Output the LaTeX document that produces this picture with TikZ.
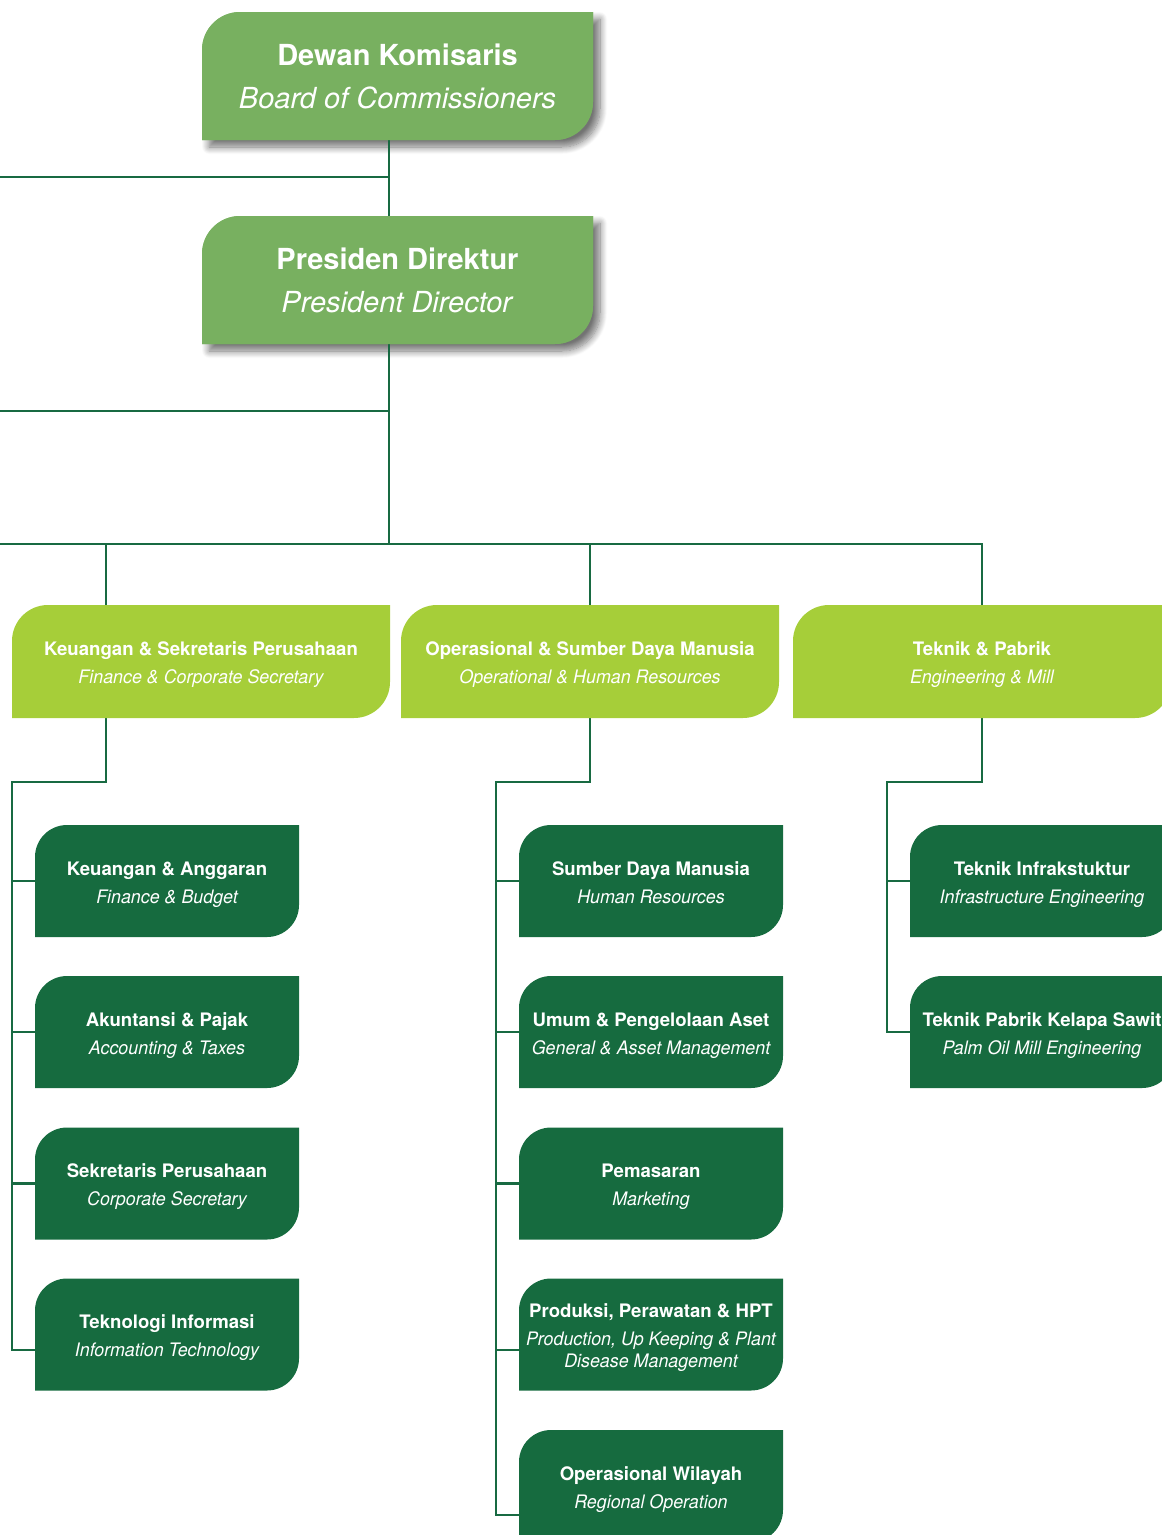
\documentclass[tikz,border=0pt]{standalone}
\usepackage{fontspec}
\setmainfont{TeX Gyre Heros}
\usetikzlibrary{backgrounds,shadows.blur}
\definecolor{topg}{RGB}{120,176,96}
\definecolor{midg}{RGB}{166,206,57}
\definecolor{darkg}{RGB}{22,107,63}
\definecolor{lineg}{RGB}{24,106,66}
\newcommand\leafpath[2]{(#1.south west) -- ([yshift=-#2pt]#1.north west) arc[start angle=180,end angle=90,radius=#2pt] -- (#1.north east) -- ([yshift=#2pt]#1.south east) arc[start angle=0,end angle=-90,radius=#2pt] -- cycle}
\newcommand\subt[1]{{\itshape\addfontfeature{FakeStretch=0.96}#1\rule[-4.5pt]{0pt}{0pt}}}
\newcommand\ttl[1]{\rule{0pt}{21pt}\textbf{#1}}
\begin{document}
\begin{tikzpicture}[x=1pt,y=1pt,
  conn/.style={draw=lineg,line width=2.5pt},
  leaf/.style 2 args={inner sep=0pt,outer sep=0pt,text=white,align=center,
    path picture={\fill[#1] \leafpath{path picture bounding box}{#2};}},
  topbox/.style={leaf={topg}{38},minimum width=391pt,minimum height=128pt,font=\fontsize{29}{43}\selectfont},
  secbox/.style={leaf={midg}{36},minimum width=378pt,minimum height=113pt,font=\fontsize{18.6}{28}\selectfont},
  unitbox/.style={leaf={darkg}{32},minimum width=264pt,minimum height=112pt,font=\fontsize{18.6}{28}\selectfont},
  shd/.style={fill=topg,blur shadow={shadow xshift=7pt,shadow yshift=-7pt,shadow blur radius=7pt,shadow opacity=55,shadow blur steps=10}}
]
\useasboundingbox (0,0) rectangle (1162,-1535);
\clip (0,0) rectangle (1162,-1535);

% top level
\node[topbox] (dk) at (397.5,-76) {\textbf{Dewan Komisaris}\\\textit{Board of Commissioners}};
\node[topbox] (pd) at (397.5,-280) {\textbf{Presiden Direktur}\\\textit{President Director}};

% directorates
\node[secbox] (kfs) at (201,-661.5) {\ttl{Keuangan \& Sekretaris Perusahaan}\\\subt{Finance \& Corporate Secretary}};
\node[secbox] (ohr) at (590,-661.5) {\ttl{Operasional \& Sumber Daya Manusia}\\\subt{Operational \& Human Resources}};
\node[secbox] (tp) at (982,-661.5) {\ttl{Teknik \& Pabrik}\\\subt{Engineering \& Mill}};

% left units
\node[unitbox] (ka) at (167,-881) {\ttl{Keuangan \& Anggaran}\\\subt{Finance \& Budget}};
\node[unitbox] (ap) at (167,-1032) {\ttl{Akuntansi \& Pajak}\\\subt{Accounting \& Taxes}};
\node[unitbox] (sp) at (167,-1183.5) {\ttl{Sekretaris Perusahaan}\\\subt{Corporate Secretary}};
\node[unitbox] (ti) at (167,-1334.5) {\ttl{Teknologi Informasi}\\\subt{Information Technology}};

% middle units
\node[unitbox] (sdm) at (651,-881) {\ttl{Sumber Daya Manusia}\\\subt{Human Resources}};
\node[unitbox] (upa) at (651,-1032) {\ttl{Umum \& Pengelolaan Aset}\\\subt{General \& Asset Management}};
\node[unitbox] (pem) at (651,-1183.5) {\ttl{Pemasaran}\\\subt{Marketing}};
\node[unitbox] (pph) at (651,-1334.5) {\ttl{Produksi, Perawatan \& HPT}\\\subt{Production, Up Keeping \& Plant}\\[-6pt]\subt{Disease Management}};
\node[unitbox] (ow) at (651,-1486) {\ttl{Operasional Wilayah}\\\subt{Regional Operation}};

% right units
\node[unitbox] (tin) at (1042,-881) {\ttl{Teknik Infrakstuktur}\\\subt{Infrastructure Engineering}};
\node[unitbox] (tpk) at (1042,-1032) {\ttl{Teknik Pabrik Kelapa Sawit}\\\subt{Palm Oil Mill Engineering}};

\begin{scope}[on background layer]
  \path[shd] \leafpath{dk}{38};
  \path[shd] \leafpath{pd}{38};

  \coordinate (spine) at (389,0);
  \coordinate (l1) at (0,-177);
  \coordinate (l2) at (0,-411);
  \coordinate (l3) at (0,-544);
  \coordinate (xa) at (106,0);

  \draw[conn] (dk.south -| spine) -- (pd.north -| spine);
  \draw[conn] (l1) -- (l1 -| spine);
  \draw[conn] (pd.south -| spine) -- (l3 -| spine);
  \draw[conn] (l2) -- (l2 -| spine);
  \draw[conn] (l3) -| (tp.north);
  \draw[conn] (ohr.north) -- (ohr.north |- l3);
  \draw[conn] (kfs.north -| xa) -- (l3 -| xa);

  % left branch
  \coordinate (tl) at (12,-782);
  \coordinate (tiB) at ([yshift=-15.5pt]ti.west);
  \draw[conn] (kfs.south -| xa) |- (tl) |- (tiB);
  \draw[conn] (tl |- ka.west) -- (ka.west);
  \draw[conn] (tl |- ap.west) -- (ap.west);
  \draw[conn] (tl |- sp.west) -- (sp.west);

  % middle branch
  \coordinate (tm) at (496,-782);
  \coordinate (pphB) at ([yshift=-15.5pt]pph.west);
  \coordinate (owB) at ([yshift=-29pt]ow.west);
  \draw[conn] (ohr.south) |- (tm) |- (owB);
  \draw[conn] (tm |- sdm.west) -- (sdm.west);
  \draw[conn] (tm |- upa.west) -- (upa.west);
  \draw[conn] (tm |- pem.west) -- (pem.west);
  \draw[conn] (tm |- pphB) -- (pphB);

  % right branch
  \coordinate (tr) at (887,-782);
  \draw[conn] (tp.south) |- (tr) |- (tpk.west);
  \draw[conn] (tr |- tin.west) -- (tin.west);
\end{scope}
\end{tikzpicture}
\end{document}
